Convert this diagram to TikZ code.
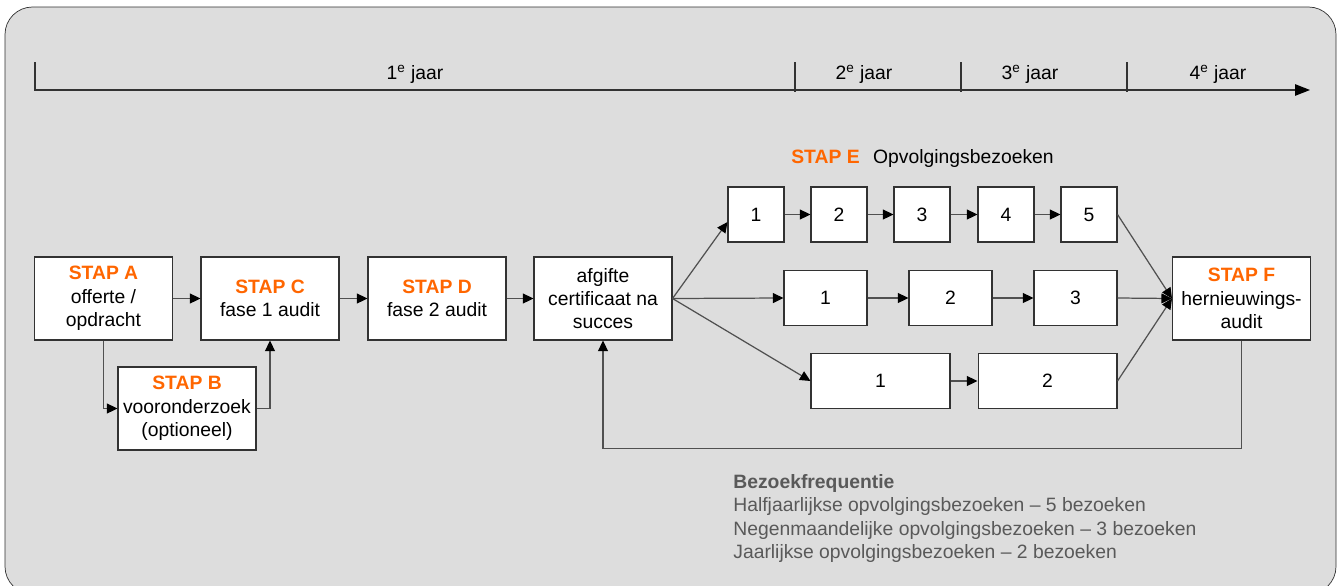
\documentclass[tikz,border=0pt]{standalone}
\usepackage{fontspec}
\setmainfont{Liberation Sans}
\usepackage{tikz}
\usetikzlibrary{arrows.meta,positioning}

\definecolor{staporanje}{RGB}{255,102,0}
\definecolor{kader}{RGB}{221,221,221}
\definecolor{lijn}{RGB}{80,80,80}
\definecolor{rand}{RGB}{50,50,50}
\definecolor{legendagrijs}{RGB}{89,89,89}
\newcommand{\stap}[1]{\textcolor{staporanje}{\textbf{#1}}}

\begin{document}
\begin{tikzpicture}[
  x=0.02cm, y=-0.02cm,
  every node/.style={align=center,font=\fontsize{11}{13.3}\selectfont},
  stapbox/.style={draw=rand,fill=white,semithick,inner sep=0pt,minimum width=2.76cm,minimum height=1.66cm},
  bezoek/.style={draw=rand,fill=white,semithick,inner sep=0pt,minimum height=1.1cm},
  bezoekklein/.style={bezoek,minimum width=1.12cm},
  bezoekmid/.style={bezoek,minimum width=1.66cm},
  bezoekbreed/.style={bezoek,minimum width=2.78cm},
  pijl/.style={-{Triangle[length=6pt,width=5.6pt,color=black]},lijn,line width=0.7pt},
  tijdpijl/.style={-{Triangle[length=8.5pt,width=6.5pt,color=black]},rand,line width=0.7pt},
  lijnstuk/.style={rand,line width=0.7pt}]

  % Frame and background
  \clip (0,0) rectangle (1338,585);
  \fill[white] (0,0) rectangle (1338,585);
  \draw[rand,fill=kader,rounded corners=0.55cm] (5,7) rectangle (1336,594);

  % Time line with the years
  \coordinate (tstart) at (35,62);
  \coordinate (t0) at (35,90);
  \coordinate (t1) at (1310,90);
  \draw[tijdpijl] (tstart) -- (t0) -- (t1);
  \foreach \x in {795,961,1127}
    \draw[lijnstuk] (\x,62) -- (\x,92);
  \node (jaar1e) at (415,74) {1\textsuperscript{e} jaar};
  \node (jaar2e) at (864,74) {2\textsuperscript{e} jaar};
  \node (jaar3e) at (1030,74) {3\textsuperscript{e} jaar};
  \node (jaar4e) at (1218,74) {4\textsuperscript{e} jaar};

  % Position the steps
  \node[stapbox] (stapA) at (103.5,298.5) {\stap{STAP A}\\offerte /\\opdracht};
  \node[stapbox] (stapB) at (187,408.5) {\stap{STAP B}\\vooronderzoek\\(optioneel)};
  \node[stapbox] (stapC) at (270,298.5) {\stap{STAP C}\\fase 1 audit};
  \node[stapbox] (stapD) at (437,298.5) {\stap{STAP D}\\fase 2 audit};
  \node[stapbox] (cert) at (603,298.5) {afgifte\\certificaat na\\succes};
  \node[stapbox] (stapF) at (1241.5,298.5) {\stap{STAP F}\\hernieuwings-\\audit};
  \node (stapE) at (922.5,158) {\stap{STAP E}\hspace{0.7em}Opvolgingsbezoeken};

  % Follow-up visits
  \foreach \i/\x in {1/756,2/839,3/922,4/1006,5/1089}
    \node[bezoekklein] (half\i) at (\x,214.5) {\i};
  \foreach \i/\x in {1/825.5,2/950.5,3/1075.5}
    \node[bezoekmid] (negen\i) at (\x,298) {\i};
  \foreach \i/\x in {1/880.5,2/1047.5}
    \node[bezoekbreed] (jaar\i) at (\x,381) {\i};

  % Draw the arrows between the nodes
  \draw[pijl] (stapA) -- (stapC);
  \draw[pijl] (stapA.south) |- (stapB.west);
  \draw[pijl] (stapB.east) -| (stapC.south);
  \draw[pijl] (stapC) -- (stapD);
  \draw[pijl] (stapD) -- (cert);
  \draw[pijl] (cert.east) -- ([yshift=-0.15cm]half1.west);
  \draw[pijl] (cert.east) -- (negen1.west);
  \draw[pijl] (cert.east) -- (jaar1.west);
  \foreach \i [count=\j from 2] in {1,...,4}
    \draw[pijl] (half\i) -- (half\j);
  \draw[pijl] (negen1) -- (negen2);
  \draw[pijl] (negen2) -- (negen3);
  \draw[pijl] (jaar1) -- (jaar2);
  \draw[pijl] (half5.east) -- (stapF.west);
  \draw[pijl] (negen3.east) -- (stapF.west);
  \draw[pijl] (jaar2.east) -- (stapF.west);
  \draw[pijl] (stapF.south) -- ++(0,108) -| (cert.south);

  % Legend
  \node[anchor=north west,align=left,text=legendagrijs,inner sep=0pt] (legenda) at (733,474)
    {\textbf{Bezoekfrequentie}\\
     Halfjaarlijkse opvolgingsbezoeken – 5 bezoeken\\
     Negenmaandelijke opvolgingsbezoeken – 3 bezoeken\\
     Jaarlijkse opvolgingsbezoeken – 2 bezoeken};
\end{tikzpicture}
\end{document}
